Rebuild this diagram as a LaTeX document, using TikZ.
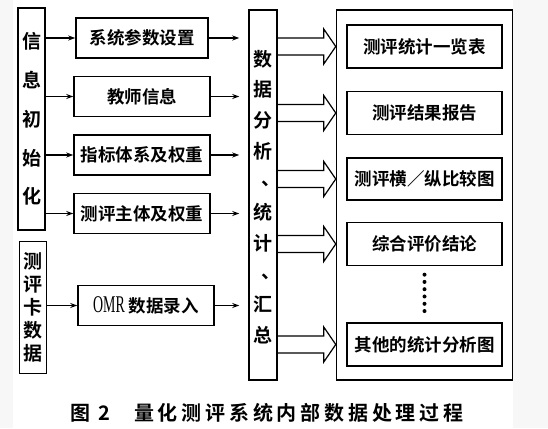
\documentclass[tikz,border=0pt]{standalone}
\usepackage{fontspec}
\setmainfont{Liberation Serif}
\newfontfamily\cjk{Noto Sans CJK SC}[BoldFont={Noto Sans CJK SC Bold}]
\newfontfamily\capfont{Noto Sans CJK SC Bold}[LetterSpace=19]
\newfontfamily\omrfont{Liberation Serif}[FakeStretch=0.58]
\newcommand\vcomma{\makebox[19pt][l]{\kern8pt\raisebox{3pt}{、}}}
\usetikzlibrary{arrows.meta, positioning, calc}
\tikzset{
    sidebox/.style={rectangle, draw=black, line width=1.5pt, inner sep=0pt, minimum width=27pt, align=center, font=\cjk\bfseries\fontsize{19}{#1}\selectfont},
    midbox/.style={rectangle, draw=black, line width=1.5pt, inner sep=0pt, minimum width=136pt, minimum height=40pt, text centered, font=\cjk\bfseries\fontsize{17.5}{20}\selectfont},
    resbox/.style={rectangle, draw=black, line width=1.5pt, inner sep=0pt, minimum width=155pt, minimum height=43pt, text centered, font=\cjk\bfseries\fontsize{17.5}{20}\selectfont},
    framebox/.style={rectangle, draw=black, line width=1.5pt, inner sep=0pt, minimum height=370pt},
    arrow/.style={-{Stealth[length=7pt, width=5pt]}, line width=1.3pt},
    hollow/.style={line width=1.2pt, line join=miter},
    captext/.style={anchor=west, inner sep=0pt, font=\capfont\fontsize{20}{24}\selectfont},
}

\begin{document}
\begin{tikzpicture}[x=1pt, y=-1pt]
        \useasboundingbox (0,0) rectangle (548,428);
        \fill[gray!6] (0,0) rectangle (548,428);
        \fill[white] (13,0) rectangle (513,428);

        % Nodes
        \node[sidebox=38.75pt, minimum height=222pt] (init) at (31.5,119) {信\\息\\初\\始\\化};
        \node[sidebox=23pt, minimum height=132pt, below=10pt of init, xshift=1.5pt] (card) {测\\评\\卡\\数\\据};
        \node[midbox, minimum width=132pt] (para) at (142,38) {系统参数设置};
        \node[midbox, below=17pt of para] (teacher) {教师信息};
        \node[midbox, below=17pt of teacher] (index) {指标体系及权重};
        \node[midbox, below=17pt of index] (subject) {测评主体及权重};
        \node[midbox, right=30pt of card, yshift=2pt] (omr) {{\omrfont\mdseries\fontsize{24}{20}\selectfont OMR} 数据录入};
        \node[framebox, minimum width=28pt] (data) at (263,195) {};
        \node[sidebox=30.7pt, draw=none] (datatext) at (263,197) {数\\据\\分\\析\\\vcomma\\统\\计\\\vcomma\\汇\\总};
        \node[framebox, minimum width=176pt, right=58pt of data] (outer) {};
        \node[resbox, below=15pt of outer.north] (r1) {测评统计一览表};
        \node[resbox, below=22pt of r1] (r2) {测评结果报告};
        \node[resbox, below=22pt of r2, minimum height=42pt] (r3) {测评横／纵比较图};
        \node[resbox, below=21pt of r3] (r4) {综合评价结论};
        \node[resbox, above=14pt of outer.south] (r5) {其他的统计分析图};
        \foreach \i in {0,...,5}
            \fill ($(r4.south)!{0.15+0.13*\i}!(r5.north)$) circle (2pt);

        % Arrows
        \foreach \b in {para, teacher, index, subject}
            \draw[arrow] (init.east |- \b.west) -- (\b.west);
        \draw[arrow] (card.east |- omr.west) -- (omr.west);
        \foreach \b in {para, teacher, index, subject, omr}
            \draw[arrow, shorten >=9pt] (\b.east) -- (\b.east -| data.west);
        \foreach \r in {r1, r2, r3, r4, r5}
            \draw[hollow] ($(data.east |- \r)+(0,-8.5)$) -- ($(outer.west |- \r)+(-12,-8.5)$) -- ++(0,-9)
                -- (outer.west |- \r) -- ($(outer.west |- \r)+(-12,17.5)$) -- ++(0,-9) -- ($(data.east |- \r)+(0,8.5)$);

        % Caption
        \node[captext] (capno) at (70,413) {图 2};
        \node[captext] (captitle) at (134,413) {量化测评系统内部数据处理过程};
    \end{tikzpicture}
\end{document}
